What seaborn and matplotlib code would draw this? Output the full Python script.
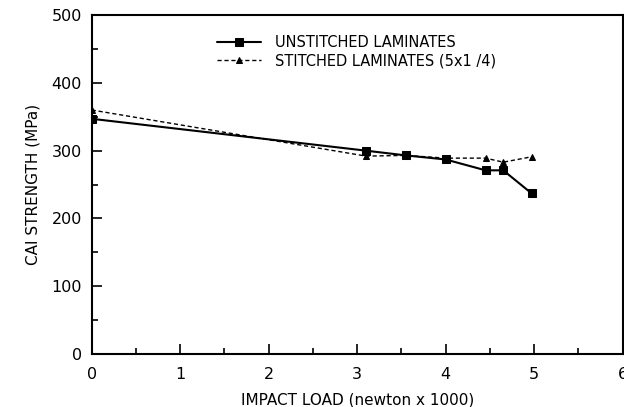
import numpy as np
import pandas as pd
import matplotlib
matplotlib.use("Agg")
import matplotlib.pyplot as plt
import seaborn as sns
from matplotlib.ticker import MultipleLocator

# Okunan veriler
impact_load = [0.0, 3.1, 3.55, 4.0, 4.45, 4.65, 4.97]
unstitched = [347, 300, 293, 287, 271, 271, 237]
stitched = [360, 292, 293, 289, 289, 283, 291]
series_names = ["UNSTITCHED LAMINATES", "STITCHED LAMINATES (5x1 /4)"]

sns.set_style("ticks")
plt.rcParams['font.family'] = ['DejaVu Sans']
plt.rcParams['text.color'] = 'black'
plt.rcParams['axes.labelcolor'] = 'black'
plt.rcParams['xtick.color'] = 'black'
plt.rcParams['ytick.color'] = 'black'

fig = plt.figure(figsize=(6.24, 4.07), dpi=100)
ax = fig.add_axes([0.147, 0.130, 0.851, 0.833])

df_u = pd.DataFrame({'x': impact_load, 'y': unstitched})
df_s = pd.DataFrame({'x': impact_load, 'y': stitched})

sns.lineplot(data=df_u, x='x', y='y', ax=ax, color='black', lw=1.5,
             marker='s', markersize=6, markeredgecolor='black',
             label=series_names[0])
sns.lineplot(data=df_s, x='x', y='y', ax=ax, color='black', lw=1.0,
             linestyle=(0, (3, 2)), marker='^', markersize=5,
             markeredgecolor='black', label=series_names[1])

ax.set_xlim(0, 6)
ax.set_ylim(0, 500)
ax.xaxis.set_major_locator(MultipleLocator(1))
ax.xaxis.set_minor_locator(MultipleLocator(0.5))
ax.yaxis.set_major_locator(MultipleLocator(100))
ax.yaxis.set_minor_locator(MultipleLocator(50))
ax.tick_params(which='both', direction='in', top=False, right=False,
               labelsize=11.5, width=1.2, colors='black')
ax.tick_params(which='major', length=7)
ax.tick_params(which='minor', length=4)
ax.tick_params(axis='x', pad=9)
ax.tick_params(axis='y', pad=7)
for sp in ax.spines.values():
    sp.set_linewidth(1.5)
    sp.set_color('black')

ax.set_xlabel('IMPACT LOAD (newton x 1000)', fontsize=11, labelpad=8)
ax.set_ylabel('CAI STRENGTH (MPa)', fontsize=11, labelpad=8)

leg = ax.legend(loc='upper left', bbox_to_anchor=(0.211, 0.981), frameon=False,
                fontsize=10.5, handlelength=3, labelspacing=0.25,
                handletextpad=1.0)

fig.savefig('out.png', dpi=100)
